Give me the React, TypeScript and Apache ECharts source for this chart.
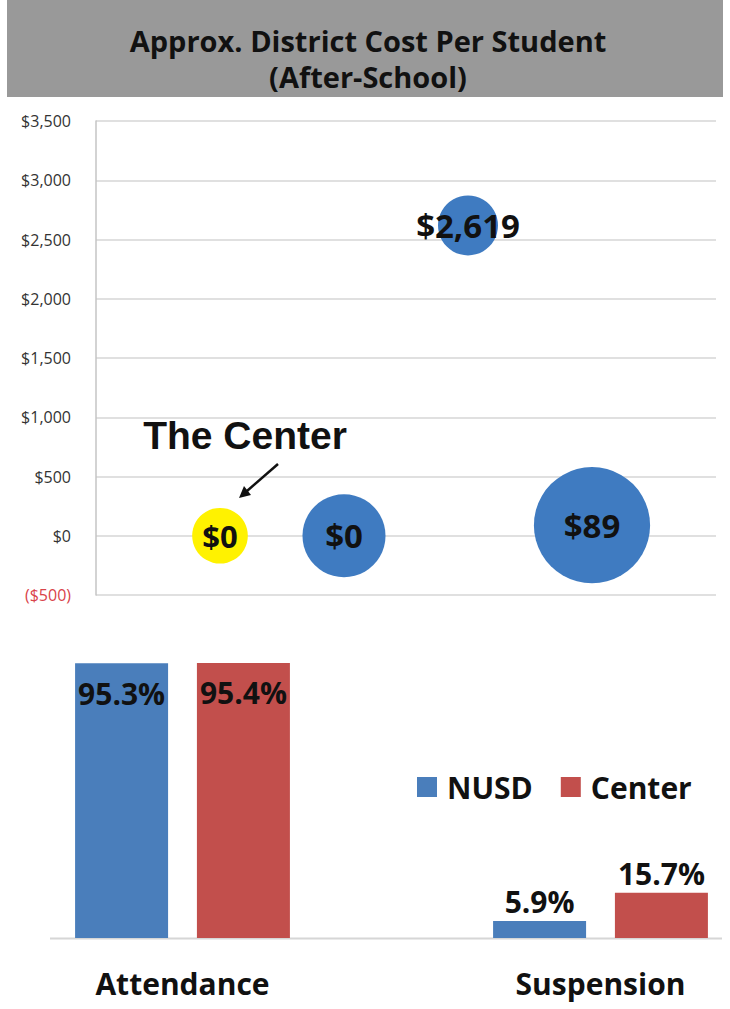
import React, { useEffect, useRef } from "react";
import * as echarts from "echarts";

// ---- Bubble chart data (District cost per student, after-school) ----
const costTicks = [-500, 0, 500, 1000, 1500, 2000, 2500, 3000, 3500];
const centerBubbleX = [1];
const centerBubbleCost = [0];
const centerBubbleWeight = [31];
const districtBubbleX = [2, 3, 4];
const districtBubbleCost = [0, 2619, 89];
const districtBubbleWeight = [69, 36, 135];

// ---- Bar chart data ----
const barCategories = ["Attendance", "Suspension"];
const nusdRates = [95.3, 5.9];
const centerRates = [95.4, 15.7];
const legendNames = ["NUSD", "Center"];

const BLUE_BUBBLE = "#3f7bc1";
const BLUE_BAR = "#4a7ebb";
const RED_BAR = "#c24f4c";
const YELLOW = "#fff200";
const FONT = "'Open Sans', 'DejaVu Sans', sans-serif";

const money = (v: number) =>
  v < 0 ? "($" + Math.abs(v).toLocaleString("en-US") + ")" : "$" + v.toLocaleString("en-US");

export default function App() {
  const ref = useRef<HTMLDivElement>(null);

  useEffect(() => {
    if (!ref.current) return;
    const chart = echarts.init(ref.current, undefined, { renderer: "svg" });

    const bubbleLabel = {
      show: true,
      position: "inside",
      formatter: (p: any) => money(p.value[1]),
      fontFamily: FONT,
      fontWeight: "bold",
      fontSize: 33,
      color: "#111",
    };

    const barLabel = (i: number) =>
      i === 0
        ? { show: true, position: "insideTop", distance: 15 }
        : { show: true, position: "top", distance: 4 };

    const barLabelStyle = {
      formatter: (p: any) => p.value.toFixed(1) + "%",
      fontFamily: FONT,
      fontWeight: "bold",
      fontSize: 30,
      color: "#111",
    };

    const option: any = {
      animation: false,
      backgroundColor: "#fff",
      grid: [
        { left: 96, right: 14, top: 121, bottom: 414 },
        { left: 182.5, right: 129.5, top: 649.7, bottom: 71 },
      ],
      xAxis: [
        { type: "value", gridIndex: 0, min: 0, max: 5, show: false },
        {
          type: "category",
          gridIndex: 1,
          data: barCategories,
          boundaryGap: false,
          axisLine: { show: false },
          axisTick: { show: false },
          axisLabel: {
            margin: 30,
            fontFamily: FONT,
            fontWeight: "bold",
            fontSize: 30,
            color: "#111",
          },
        },
      ],
      yAxis: [
        {
          type: "value",
          gridIndex: 0,
          min: costTicks[0],
          max: costTicks[costTicks.length - 1],
          interval: 500,
          axisLine: { show: true, lineStyle: { color: "#c4c4c4", width: 1.5 } },
          axisTick: { show: false },
          splitLine: { show: true, lineStyle: { color: "#d6d6d6", width: 1.5 } },
          axisLabel: {
            margin: 25,
            fontFamily: FONT,
            fontSize: 16,
            formatter: (v: number) => money(v),
            color: (v: any) => (Number(v) < 0 ? "#d9434a" : "#333"),
          },
        },
        { type: "value", gridIndex: 1, min: 0, max: 100, show: false },
      ],
      legend: {
        data: legendNames,
        left: 412,
        top: 767,
        icon: "rect",
        itemWidth: 20,
        itemHeight: 20,
        itemGap: 28,
        selectedMode: false,
        textStyle: {
          fontFamily: FONT,
          fontWeight: "bold",
          fontSize: 30,
          color: "#111",
          padding: [0, 0, 0, 5],
        },
      },
      series: [
        {
          name: "The Center (cost)",
          type: "scatter",
          xAxisIndex: 0,
          yAxisIndex: 0,
          data: centerBubbleX.map((x, i) => [x, centerBubbleCost[i], centerBubbleWeight[i]]),
          symbolSize: (d: number[]) => Math.sqrt(d[2]) * 10,
          itemStyle: { color: YELLOW, opacity: 1 },
          label: { ...bubbleLabel, fontSize: 31 },
          z: 3,
        },
        {
          name: "District (cost)",
          type: "scatter",
          xAxisIndex: 0,
          yAxisIndex: 0,
          data: districtBubbleX.map((x, i) => [x, districtBubbleCost[i], districtBubbleWeight[i]]),
          symbolSize: (d: number[]) => Math.sqrt(d[2]) * 10,
          itemStyle: { color: BLUE_BUBBLE, opacity: 1 },
          label: bubbleLabel,
          z: 3,
        },
        {
          name: "NUSD",
          type: "bar",
          xAxisIndex: 1,
          yAxisIndex: 1,
          barWidth: 93,
          barGap: "31%",
          itemStyle: { color: BLUE_BAR },
          data: nusdRates.map((v, i) => ({ value: v, label: barLabel(i) })),
          label: barLabelStyle,
        },
        {
          name: "Center",
          type: "bar",
          xAxisIndex: 1,
          yAxisIndex: 1,
          barWidth: 93,
          barGap: "31%",
          itemStyle: { color: RED_BAR },
          data: centerRates.map((v, i) => ({ value: v, label: barLabel(i) })),
          label: barLabelStyle,
        },
      ],
      graphic: [
        {
          type: "rect",
          shape: { x: 7, y: 0, width: 716, height: 97 },
          style: { fill: "#999999" },
          z: 0,
        },
        {
          type: "text",
          x: 368,
          y: 58,
          style: {
            text: "Approx. District Cost Per Student\n(After-School)",
            fill: "#111",
            fontFamily: FONT,
            fontWeight: "bold",
            fontSize: 29,
            lineHeight: 36,
            align: "center",
            verticalAlign: "middle",
          },
          z: 1,
        },
        {
          type: "text",
          x: 245,
          y: 435,
          style: {
            text: "The Center",
            fill: "#111",
            fontFamily: "'Liberation Sans', Arial, sans-serif",
            fontWeight: "bold",
            fontSize: 39,
            align: "center",
            verticalAlign: "middle",
          },
          z: 5,
        },
        {
          type: "line",
          shape: { x1: 278, y1: 464, x2: 247, y2: 491 },
          style: { stroke: "#111", lineWidth: 2.5 },
          z: 5,
        },
        {
          type: "polygon",
          shape: { points: [[239, 498], [251, 495], [244, 486]] },
          style: { fill: "#111" },
          z: 5,
        },
        {
          type: "line",
          shape: { x1: 50, y1: 938.5, x2: 722, y2: 938.5 },
          style: { stroke: "#d6d6d6", lineWidth: 2 },
          z: 0,
        },
      ],
    };

    chart.setOption(option);
    return () => chart.dispose();
  }, []);

  return (
    <div
      ref={ref}
      style={{ position: "absolute", left: 0, top: 0, width: 730, height: 1009 }}
    />
  );
}
